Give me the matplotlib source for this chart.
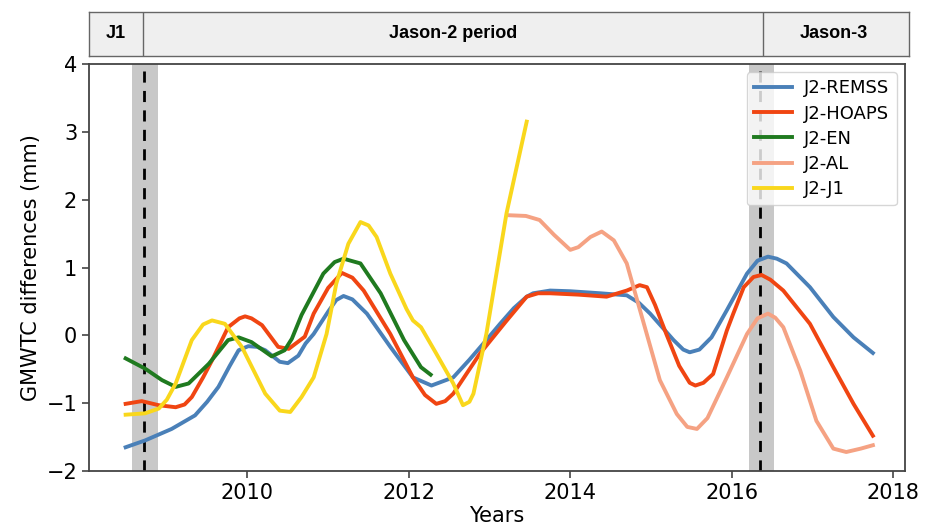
import matplotlib
matplotlib.use("Agg")
import matplotlib.pyplot as plt

# values (decimal year, mm)
remss_t = [2008.49, 2008.73, 2009.06, 2009.35, 2009.50, 2009.64, 2009.78, 2009.89, 2010.01, 2010.12,
           2010.22, 2010.40, 2010.50, 2010.63, 2010.72, 2010.82, 2011.00, 2011.10, 2011.19, 2011.30,
           2011.48, 2011.77, 2012.05, 2012.28, 2012.55, 2012.75, 2012.96, 2013.13, 2013.30, 2013.46,
           2013.54, 2013.75, 2014.00, 2014.37, 2014.70, 2014.85, 2014.99, 2015.28, 2015.40, 2015.48,
           2015.60, 2015.75, 2015.94, 2016.19, 2016.32, 2016.45, 2016.56, 2016.68, 2016.97, 2017.26,
           2017.51, 2017.75]
remss_v = [-1.65, -1.55, -1.38, -1.18, -0.98, -0.76, -0.45, -0.22, -0.16, -0.17,
           -0.22, -0.39, -0.41, -0.30, -0.12, 0.02, 0.35, 0.52, 0.58, 0.53,
           0.32, -0.17, -0.62, -0.74, -0.62, -0.36, -0.07, 0.17, 0.40, 0.57,
           0.62, 0.66, 0.65, 0.62, 0.59, 0.48, 0.32, -0.07, -0.21, -0.25,
           -0.21, -0.03, 0.37, 0.91, 1.10, 1.16, 1.13, 1.06, 0.71, 0.27,
           -0.03, -0.26]

hoaps_t = [2008.49, 2008.69, 2008.90, 2009.11, 2009.22, 2009.31, 2009.45, 2009.56, 2009.76, 2009.90,
           2009.97, 2010.05, 2010.18, 2010.38, 2010.51, 2010.71, 2010.82, 2011.00, 2011.17, 2011.30,
           2011.44, 2011.77, 2012.05, 2012.20, 2012.34, 2012.45, 2012.55, 2012.88, 2013.20, 2013.46,
           2013.60, 2013.75, 2014.10, 2014.45, 2014.70, 2014.86, 2014.95, 2015.05, 2015.19, 2015.35,
           2015.48, 2015.55, 2015.65, 2015.77, 2015.94, 2016.02, 2016.15, 2016.27, 2016.37, 2016.48,
           2016.64, 2016.97, 2017.26, 2017.51, 2017.75]
hoaps_v = [-1.01, -0.97, -1.03, -1.06, -1.02, -0.91, -0.62, -0.37, 0.12, 0.25,
           0.28, 0.25, 0.15, -0.17, -0.20, -0.02, 0.32, 0.70, 0.92, 0.85,
           0.66, 0.02, -0.62, -0.88, -1.01, -0.97, -0.86, -0.27, 0.20, 0.57,
           0.62, 0.62, 0.60, 0.57, 0.66, 0.74, 0.71, 0.45, 0.02, -0.45,
           -0.70, -0.74, -0.70, -0.57, 0.07, 0.32, 0.71, 0.86, 0.89, 0.82,
           0.66, 0.17, -0.47, -1.01, -1.48]

en_t = [2008.49, 2008.73, 2008.94, 2009.11, 2009.27, 2009.52, 2009.76, 2009.89, 2010.05, 2010.30,
        2010.46, 2010.55, 2010.67, 2010.94, 2011.08, 2011.19, 2011.40, 2011.65, 2011.94, 2012.15,
        2012.27]
en_v = [-0.34, -0.49, -0.66, -0.76, -0.71, -0.42, -0.07, -0.03, -0.10, -0.31,
        -0.22, -0.05, 0.30, 0.91, 1.08, 1.13, 1.06, 0.62, -0.07, -0.47,
        -0.58]

al_t = [2013.25, 2013.45, 2013.62, 2013.80, 2014.00, 2014.10, 2014.25, 2014.39, 2014.54, 2014.70,
        2014.90, 2015.11, 2015.32, 2015.45, 2015.57, 2015.70, 2015.94, 2016.19, 2016.32, 2016.45,
        2016.54, 2016.64, 2016.85, 2017.05, 2017.26, 2017.42, 2017.60, 2017.75]
al_v = [1.77, 1.76, 1.70, 1.48, 1.26, 1.30, 1.45, 1.53, 1.40, 1.06,
        0.22, -0.66, -1.16, -1.35, -1.38, -1.22, -0.62, 0.02, 0.25, 0.32,
        0.26, 0.12, -0.52, -1.26, -1.67, -1.72, -1.67, -1.62]

j1_t = [2008.49, 2008.73, 2008.90, 2009.00, 2009.11, 2009.31, 2009.45, 2009.56, 2009.72, 2009.93,
        2010.22, 2010.40, 2010.53, 2010.67, 2010.82, 2010.98, 2011.10, 2011.25, 2011.40, 2011.50,
        2011.60, 2011.77, 2011.97, 2012.05, 2012.15, 2012.34, 2012.55, 2012.67, 2012.75, 2012.80,
        2012.96, 2013.21, 2013.46]
j1_v = [-1.17, -1.15, -1.08, -0.95, -0.71, -0.07, 0.16, 0.22, 0.17, -0.17,
        -0.86, -1.11, -1.13, -0.91, -0.62, 0.02, 0.76, 1.35, 1.67, 1.62,
        1.45, 0.91, 0.39, 0.22, 0.12, -0.27, -0.71, -1.03, -0.98, -0.86,
        0.02, 1.80, 3.15]

series = [
    ("J2-REMSS", remss_t, remss_v, "#4a80b8"),
    ("J2-HOAPS", hoaps_t, hoaps_v, "#f04512"),
    ("J2-EN", en_t, en_v, "#1f7a1f"),
    ("J2-AL", al_t, al_v, "#f5a283"),
    ("J2-J1", j1_t, j1_v, "#f9d71c"),
]

# transition windows (J1->J2, J2->J3)
bands = [(2008.57, 2008.89), (2016.21, 2016.53)]
transitions = [2008.72, 2016.35]

periods = ["J1", "Jason-2 period", "Jason-3"]
period_edges = [2008.036, 2008.71, 2016.39, 2018.148]

XMIN, XMAX = 2008.036, 2018.148

fig = plt.figure(figsize=(9.28, 5.32), dpi=100)
ax = fig.add_axes([89 / 928, 1 - 471 / 532, (905 - 89) / 928, (471 - 64) / 532])
bar = fig.add_axes([89 / 928, 1 - 56 / 532, (909 - 89) / 928, 44 / 532])

for lo, hi in bands:
    ax.axvspan(lo, hi, color="#c8c8c8", lw=0, zorder=0)
for x in transitions:
    ax.axvline(x, color="black", ls=(0, (4, 3)), lw=2, zorder=1)

for name, t, v, c in series:
    ax.plot(t, v, color=c, lw=2.8, label=name, zorder=2)

ax.set_xlim(XMIN, XMAX)
ax.set_ylim(-2, 4)
ax.set_xticks([2010, 2012, 2014, 2016, 2018])
ax.set_yticks(range(-2, 5))
ax.tick_params(labelsize=15, length=5, width=1.2, color="#444444")
for s in ax.spines.values():
    s.set_color("#444444")
    s.set_linewidth(1.3)
ax.set_xlabel("Years", fontsize=15, labelpad=2)
ax.set_ylabel("GMWTC differences (mm)", fontsize=15)
ax.legend(loc="upper right", fontsize=13, labelspacing=0.4, handlelength=2.1,
          handletextpad=0.7, borderaxespad=0.45)

# period bar on top
bar.set_xlim(XMIN, XMAX + 4 / 80.7)
bar.set_ylim(0, 1)
bar.set_facecolor("#efefef")
bar.set_xticks([])
bar.set_yticks([])
for s in bar.spines.values():
    s.set_color("#666666")
    s.set_linewidth(1.0)
for x in period_edges[1:-1]:
    bar.axvline(x, color="#666666", lw=1.0)
for i, name in enumerate(periods):
    mid = (period_edges[i] + period_edges[i + 1]) / 2
    bar.text(mid, 0.5, name, ha="center", va="center", fontsize=13,
             fontweight="bold", family="Liberation Sans")

fig.savefig("out.png", dpi=100)
